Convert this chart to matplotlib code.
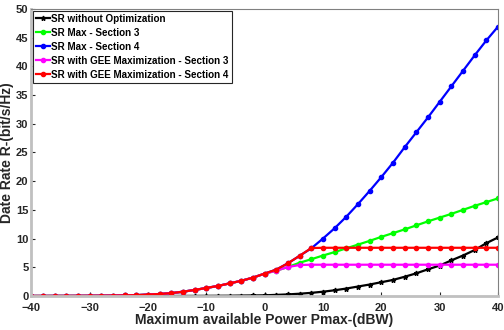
import numpy as np
import matplotlib
matplotlib.use('Agg')
import matplotlib.pyplot as plt

plt.rcParams['font.family'] = ['Liberation Sans', 'DejaVu Sans']
plt.rcParams['font.weight'] = 'bold'

# Data
pmax = list(range(-40, 41, 2))

sr_no_opt = [0.0, 0.0, 0.0, 0.0, 0.0, 0.0, 0.0, 0.0, 0.0, 0.0,
             0.0, 0.01, 0.01, 0.02, 0.02, 0.03, 0.04, 0.05, 0.08, 0.1,
             0.12, 0.2, 0.28, 0.4, 0.55, 0.75, 1.0, 1.3, 1.65, 2.0,
             2.4, 2.8, 3.35, 3.95, 4.65, 5.3, 6.2, 7.05, 8.0, 9.2, 10.2]

low_part = [0.01, 0.01, 0.02, 0.02, 0.03, 0.04, 0.05, 0.07, 0.1, 0.15,
            0.25, 0.35, 0.5, 0.75, 1.05, 1.4, 1.75, 2.2, 2.65, 3.2, 3.9]

sr_max_s3 = low_part + [4.4, 5.05, 5.8, 6.4, 7.05, 7.65, 8.3, 8.95, 9.6, 10.3,
                        10.95, 11.6, 12.3, 13.0, 13.65, 14.3, 15.0, 15.7, 16.35, 17.0]

sr_max_s4 = low_part + [4.6, 5.7, 7.0, 8.3, 10.0, 11.8, 13.8, 16.0, 18.3, 20.7,
                        23.2, 25.9, 28.5, 31.1, 33.8, 36.5, 39.2, 41.9, 44.5, 46.9]

gee_s3 = low_part + [4.4, 5.05, 5.4, 5.45, 5.45, 5.45, 5.45, 5.45, 5.45, 5.45,
                     5.45, 5.45, 5.45, 5.45, 5.45, 5.45, 5.45, 5.45, 5.45, 5.45]

gee_s4 = low_part + [4.6, 5.7, 7.0, 8.35, 8.4, 8.4, 8.4, 8.4, 8.4, 8.4,
                     8.4, 8.4, 8.4, 8.4, 8.4, 8.4, 8.4, 8.4, 8.4, 8.4]

labels = ['SR without Optimization', 'SR Max - Section 3', 'SR Max - Section 4',
          'SR with GEE Maximization - Section 3', 'SR with GEE Maximization - Section 4']

fig = plt.figure(figsize=(5.04, 3.30), dpi=100)
ax = fig.add_axes([0.062, 0.103, 0.926, 0.870])

ax.plot(pmax, sr_no_opt, color='k', marker='*', markersize=3.5, linewidth=1.6, label=labels[0])
ax.plot(pmax, sr_max_s3, color='#00ff00', marker='o', markersize=3, linewidth=1.6, label=labels[1])
ax.plot(pmax, sr_max_s4, color='b', marker='o', markersize=3, linewidth=1.6, label=labels[2])
ax.plot(pmax, gee_s3, color='#ff00ff', marker='o', markersize=3, linewidth=1.6, label=labels[3])
ax.plot(pmax, gee_s4, color='r', marker='o', markersize=3, linewidth=1.6, label=labels[4])

ax.set_xlim(-40, 40)
ax.set_ylim(0, 50)
ax.set_xticks(range(-40, 41, 10))
ax.set_yticks(range(0, 51, 5))
ax.tick_params(direction='in', length=3, labelsize=8, colors='#262626', pad=2)
ax.tick_params(axis='x', pad=5)
for s in ax.spines.values():
    s.set_color('#808080')
    s.set_linewidth(0.8)
ax.spines['left'].set_color('#c0c0c0')
ax.spines['left'].set_linewidth(2)
ax.spines['bottom'].set_color('#c0c0c0')
ax.spines['bottom'].set_linewidth(2)

ax.set_xlabel('Maximum available Power Pmax-(dBW)', fontsize=10, fontweight='bold', color='#262626', labelpad=0)
ax.set_ylabel('Date Rate R-(bit/s/Hz)', fontsize=10, fontweight='bold', color='#262626')
ax.yaxis.set_label_coords(-0.038, 0.5)

leg = ax.legend(loc='upper left', fontsize=7.1, handlelength=1.4, handletextpad=0.15,
                borderpad=0.3, labelspacing=0.4, borderaxespad=0.2, fancybox=False,
                framealpha=1, edgecolor='#262626')
leg.get_frame().set_linewidth(0.8)

plt.savefig('out.png', dpi=100)
